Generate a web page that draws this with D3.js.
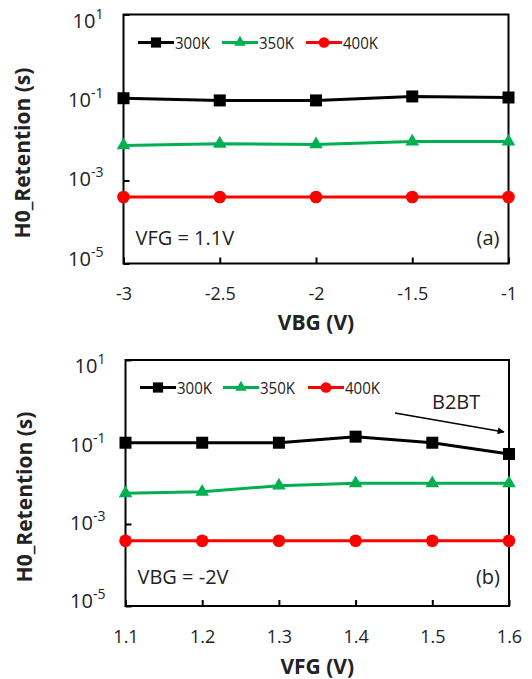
<!DOCTYPE html>
<html>
<head>
<meta charset="utf-8">
<script src="https://cdn.jsdelivr.net/npm/d3@7"></script>
<style>
  html, body { margin: 0; padding: 0; background: #fff; }
  svg { display: block; }
  text { font-family: "Open Sans", "DejaVu Sans", sans-serif; }
</style>
</head>
<body>
<svg id="chart" width="532" height="679"></svg>
<script>
// ---------- data ----------
const seriesNames = ["300K", "350K", "400K"];
const seriesColors = ["#000000", "#00b050", "#ff0000"];
const seriesShapes = ["square", "triangle", "circle"];

const vbg = [-3, -2.5, -2, -1.5, -1];
const topRet300 = [0.096, 0.085, 0.085, 0.106, 0.100];
const topRet350 = [0.0070, 0.0077, 0.0074, 0.0087, 0.0087];
const topRet400 = [0.0004, 0.0004, 0.0004, 0.0004, 0.0004];

const vfg = [1.1, 1.2, 1.3, 1.4, 1.5, 1.6];
const botRet300 = [0.096, 0.096, 0.096, 0.135, 0.096, 0.051];
const botRet350 = [0.0056, 0.0061, 0.0086, 0.0098, 0.0098, 0.0098];
const botRet400 = [0.00039, 0.00039, 0.00039, 0.00039, 0.00039, 0.00039];

const yTickVals = [10, 0.1, 0.001, 0.00001];
const yTickExp = ["1", "-1", "-3", "-5"];
const xTickTop = ["-3", "-2.5", "-2", "-1.5", "-1"];
const xTickBot = ["1.1", "1.2", "1.3", "1.4", "1.5", "1.6"];

// ---------- drawing ----------
const svg = d3.select("#chart");

function drawPanel(cfg) {
  const g = svg.append("g");
  const x = d3.scaleLinear().domain(cfg.xDomain).range([cfg.left, cfg.right]);
  const y = d3.scaleLog().domain([1e-5, 10]).range([cfg.bottom, cfg.top]);

  // x axis
  const xa = g.append("g").attr("transform", `translate(0,${cfg.bottom})`)
    .call(d3.axisBottom(x).tickValues(cfg.xVals).tickSize(-6).tickPadding(24)
      .tickFormat((d, i) => cfg.xLabels[i]));
  xa.select(".domain").remove();
  xa.selectAll("line").attr("stroke", "#000").attr("stroke-width", 2);
  xa.selectAll("text").attr("font-size", 18).attr("fill", "#222")
    .attr("font-family", "'Open Sans', sans-serif");

  // y axis
  const ya = g.append("g").attr("transform", `translate(${cfg.left},0)`)
    .call(d3.axisLeft(y).tickValues(yTickVals).tickSize(-6).tickPadding(20).tickFormat(""));
  ya.select(".domain").remove();
  ya.selectAll("line").attr("stroke", "#000").attr("stroke-width", 2);
  ya.selectAll(".tick").each(function(d, i) {
    const t = d3.select(this).select("text")
      .attr("x", -20).attr("dy", null).attr("font-size", 20).attr("fill", "#222")
      .attr("text-anchor", "end");
    // labels slightly compressed toward the centre, like the original
    t.attr("y", 7.25 - (i - 1.5) * 3.8);
    t.append("tspan").text("10");
    t.append("tspan").attr("font-size", 14).attr("dy", -9).text(yTickExp[i]);
  });

  // frame
  g.append("rect").attr("x", cfg.left).attr("y", cfg.top)
    .attr("width", cfg.right - cfg.left).attr("height", cfg.bottom - cfg.top)
    .attr("fill", "none").attr("stroke", "#000").attr("stroke-width", 2);

  // series
  const line = d3.line().x(d => x(d[0])).y(d => y(d[1]));
  cfg.series.forEach((vals, si) => {
    const pts = cfg.xVals.map((xv, i) => [xv, vals[i]]);
    g.append("path").datum(pts).attr("d", line).attr("fill", "none")
      .attr("stroke", seriesColors[si]).attr("stroke-width", 3);
    pts.forEach(p => drawMarker(g, seriesShapes[si], x(p[0]), y(p[1]), seriesColors[si]));
  });

  // legend
  cfg.legend.forEach((lx, si) => {
    g.append("line").attr("x1", lx).attr("x2", lx + 36)
      .attr("y1", cfg.legendY).attr("y2", cfg.legendY)
      .attr("stroke", seriesColors[si]).attr("stroke-width", 3);
    drawMarker(g, seriesShapes[si], lx + 18, cfg.legendY, seriesColors[si], 0.85);
    g.append("text").attr("x", lx + 37).attr("y", cfg.legendY + 6)
      .attr("font-size", 16.5).attr("fill", "#222")
      .attr("textLength", 35).attr("lengthAdjust", "spacingAndGlyphs")
      .text(seriesNames[si]);
  });

  // annotations
  g.append("text").attr("x", cfg.left + 12).attr("y", cfg.noteY)
    .attr("font-size", 20).attr("fill", "#222").text(cfg.note);
  g.append("text").attr("x", cfg.right - 9).attr("y", cfg.noteY)
    .attr("text-anchor", "end").attr("font-size", 20).attr("fill", "#222").text(cfg.tag);

  // axis titles
  g.append("text").attr("x", (cfg.left + cfg.right) / 2).attr("y", cfg.xTitleY)
    .attr("text-anchor", "middle").attr("font-size", 21).attr("font-weight", "bold")
    .attr("fill", "#222").text(cfg.xTitle);
  g.append("text")
    .attr("transform", `translate(${cfg.yTitleX},${(cfg.top + cfg.bottom) / 2 + 14}) rotate(-90)`)
    .attr("text-anchor", "middle").attr("font-size", 21).attr("font-weight", "bold")
    .attr("fill", "#222").text("H0_Retention (s)");
  return { g, x, y };
}

function drawMarker(g, shape, cx, cy, color, k = 1) {
  if (shape === "square") {
    const s = 12 * k;
    g.append("rect").attr("x", cx - s / 2).attr("y", cy - s / 2).attr("width", s).attr("height", s)
      .attr("fill", color);
  } else if (shape === "triangle") {
    g.append("path").attr("d", d3.symbol(d3.symbolTriangle, 80 * k * k)())
      .attr("transform", `translate(${cx},${cy})`).attr("fill", color);
  } else {
    g.append("circle").attr("cx", cx).attr("cy", cy).attr("r", 6.3 * k).attr("fill", color);
  }
}

drawPanel({
  left: 123.5, right: 508.5, top: 14.5, bottom: 263.5,
  xDomain: [-3, -1], xVals: vbg, xLabels: xTickTop,
  series: [topRet300, topRet350, topRet400],
  legend: [138, 222, 306], legendY: 42.5,
  note: "VFG = 1.1V", tag: "(a)", noteY: 245,
  xTitle: "VBG (V)", xTitleY: 330, yTitleX: 30
});

drawPanel({
  left: 125.5, right: 509, top: 360, bottom: 606,
  xDomain: [1.1, 1.6], xVals: vfg, xLabels: xTickBot,
  series: [botRet300, botRet350, botRet400],
  legend: [140, 223, 308], legendY: 387.5,
  note: "VBG = -2V", tag: "(b)", noteY: 584,
  xTitle: "VFG (V)", xTitleY: 674, yTitleX: 32
});

// B2BT annotation
const defs = svg.append("defs");
defs.append("marker").attr("id", "arr").attr("viewBox", "0 0 10 10")
  .attr("refX", 9).attr("refY", 5).attr("markerWidth", 9).attr("markerHeight", 7)
  .attr("orient", "auto").attr("markerUnits", "userSpaceOnUse")
  .append("path").attr("d", "M0,0 L10,5 L0,10 z").attr("fill", "#000");
svg.append("line").attr("x1", 395).attr("y1", 413).attr("x2", 504).attr("y2", 432)
  .attr("stroke", "#000").attr("stroke-width", 1.5).attr("marker-end", "url(#arr)");
svg.append("text").attr("x", 432).attr("y", 409).attr("font-size", 20).attr("fill", "#222").text("B2BT");
</script>
</body>
</html>
